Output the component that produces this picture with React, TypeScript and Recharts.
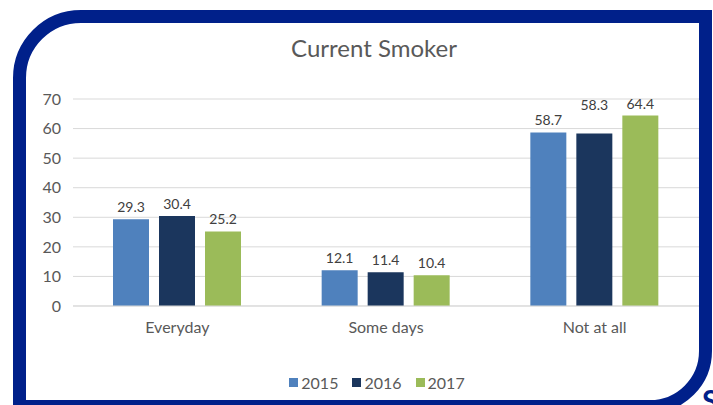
import { BarChart, Bar, XAxis, YAxis, CartesianGrid, Legend, LabelList } from 'recharts';

const categories = ['Everyday', 'Some days', 'Not at all'];
const years = ['2015', '2016', '2017'];
const values2015 = [29.3, 12.1, 58.7];
const values2016 = [30.4, 11.4, 58.3];
const values2017 = [25.2, 10.4, 64.4];
const yTicks = [0, 10, 20, 30, 40, 50, 60, 70];

const SERIES = [
  { key: 'y2015', label: years[0], color: '#4f81bd', values: values2015 },
  { key: 'y2016', label: years[1], color: '#1b365d', values: values2016 },
  { key: 'y2017', label: years[2], color: '#9bbb59', values: values2017 },
];

const FONT = 'Lato, "Liberation Sans", sans-serif';
const TEXT = '#595959';
const NAVY = '#00208a';

const chartData = categories.map((c, i) => ({
  name: c,
  y2015: values2015[i],
  y2016: values2016[i],
  y2017: values2017[i],
}));

// the 58.3 label sits higher in the original (moved by hand in Excel)
function makeLabel(seriesKey: string) {
  return (props: any) => {
    const { x, y, width, value, index } = props;
    const lift = seriesKey === 'y2016' && index === 2 ? 17 : 0;
    return (
      <text x={x + width / 2} y={y - 7 - lift} textAnchor="middle" fill="#404040"
        fontSize={14} fontFamily={FONT}>
        {value.toFixed(1)}
      </text>
    );
  };
}

function LegendBox() {
  return (
    <div style={{ display: 'flex', justifyContent: 'center', gap: 14, paddingLeft: 22, fontFamily: FONT, fontSize: 16, color: TEXT }}>
      {SERIES.map(s => (
        <span key={s.key} style={{ display: 'flex', alignItems: 'center', gap: 3 }}>
          <span style={{ width: 9, height: 9, background: s.color, display: 'inline-block' }} />
          {s.label}
        </span>
      ))}
    </div>
  );
}

export default function App() {
  return (
    <div style={{ position: 'absolute', left: 0, top: 0, width: 713, height: 405, overflow: 'hidden', background: '#fff' }}>
      <div style={{ position: 'absolute', left: 0, top: 33, width: 748, textAlign: 'center', fontFamily: FONT, fontSize: 24, color: TEXT }}>
        Current Smoker
      </div>
      <BarChart width={713} height={405} data={chartData}
        margin={{ top: 99, right: 14, bottom: 1, left: 33 }}
        barSize={36} barGap={10} barCategoryGap="19%">
        <CartesianGrid vertical={false} stroke="#d9d9d9" />
        <XAxis dataKey="name" axisLine={{ stroke: '#d9d9d9' }} tickLine={false} height={67} tickMargin={10}
          tick={{ fontSize: 16, fill: TEXT, fontFamily: FONT }} />
        <YAxis domain={[0, 70]} ticks={yTicks} axisLine={false} tickLine={false} width={40}
          tick={{ fontSize: 16, fill: TEXT, fontFamily: FONT }} tickMargin={6} />
        <Legend verticalAlign="bottom" height={31} content={() => <LegendBox />} />
        {SERIES.map(s => (
          <Bar key={s.key} dataKey={s.key} name={s.label} fill={s.color} isAnimationActive={false}>
            <LabelList dataKey={s.key} content={makeLabel(s.key)} />
          </Bar>
        ))}
      </BarChart>
      <div style={{ position: 'absolute', left: 13, top: 10, width: 699, height: 403, boxSizing: 'border-box',
        border: `13px solid ${NAVY}`, borderRadius: '68px 0 62px 0', pointerEvents: 'none' }} />
      <div style={{ position: 'absolute', left: 702, top: 382, fontFamily: FONT, fontWeight: 700, fontSize: 30, color: NAVY }}>
        S
      </div>
    </div>
  );
}
